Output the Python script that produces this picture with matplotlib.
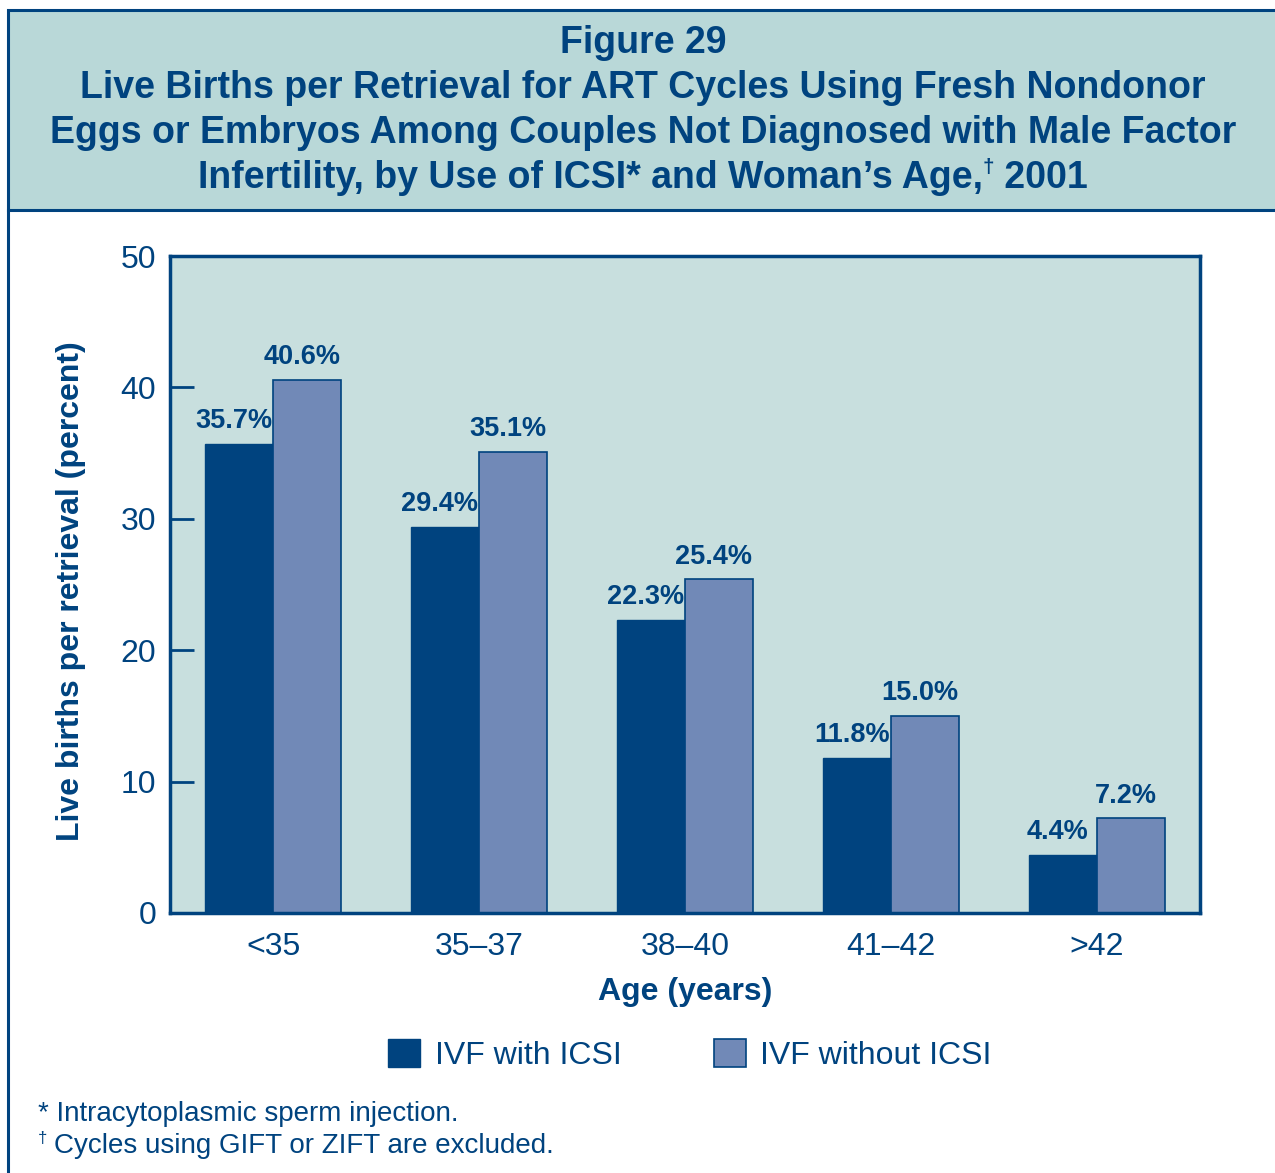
import numpy as np
import matplotlib
matplotlib.use('Agg')
import matplotlib.pyplot as plt
from matplotlib.patches import Rectangle

# ---- data ----
age_groups = ['<35', '35\u201337', '38\u201340', '41\u201342', '>42']
with_icsi = [35.7, 29.4, 22.3, 11.8, 4.4]
without_icsi = [40.6, 35.1, 25.4, 15.0, 7.2]
series_names = ['IVF with ICSI', 'IVF without ICSI']

BLUE = '#00437f'
LIGHT = '#7189b7'
HEAD_BG = '#b9d8d8'
AX_BG = '#c8dfde'

plt.rcParams['font.family'] = ['Liberation Sans', 'DejaVu Sans']

W, H = 1275, 1173
fig = plt.figure(figsize=(W / 100, H / 100), dpi=100)

# ---- frame and header box ----
fig.patches.append(Rectangle((8 / W, 1 - 210 / H), 1.0, 200 / H,
                             transform=fig.transFigure, facecolor=HEAD_BG,
                             edgecolor=BLUE, lw=2.2, zorder=0))
fig.add_artist(plt.Line2D([8 / W, 8 / W], [0, 1 - 210 / H],
                          transform=fig.transFigure, color=BLUE, lw=2.2))

TFS = 27
title_lines = ['Figure 29',
               'Live Births per Retrieval for ART Cycles Using Fresh Nondonor',
               'Eggs or Embryos Among Couples Not Diagnosed with Male Factor']
for i, line in enumerate(title_lines):
    fig.text(643 / W, 1 - (43 + 45 * i) / H, line, ha='center', va='center',
             fontsize=TFS, fontweight='bold', color=BLUE)

# last title line has a superscript dagger: build it from three pieces
renderer = fig.canvas.get_renderer()
ty = 1 - 178 / H
parts = [('Infertility, by Use of ICSI* and Woman\u2019s Age,', TFS, 0),
         ('\u2020', TFS * 0.55, 11),
         (' 2001', TFS, 0)]
texts = []
for s, fs, dy in parts:
    t = fig.text(0, ty + dy / H, s, ha='left', va='center', fontsize=fs,
                 fontweight='bold', color=BLUE)
    texts.append(t)
widths = [t.get_window_extent(renderer).width for t in texts]
x0 = 643 - sum(widths) / 2
for t, w in zip(texts, widths):
    t.set_x(x0 / W)
    x0 += w

# ---- axes ----
ax = fig.add_axes([170 / W, 1 - 913 / H, 1030 / W, 657 / H])
ax.set_facecolor(AX_BG)
x = np.arange(len(age_groups))
bw = 0.33
b1 = ax.bar(x - bw / 2, with_icsi, bw, color=BLUE, edgecolor=BLUE, lw=1,
            label=series_names[0], zorder=2)
b2 = ax.bar(x + bw / 2, without_icsi, bw, color=LIGHT, edgecolor=BLUE, lw=1.2,
            label=series_names[1], zorder=2)

for bars, vals in ((b1, with_icsi), (b2, without_icsi)):
    for r, v in zip(bars, vals):
        ax.annotate(f'{v:.1f}%', (r.get_x() + r.get_width() / 2 - 0.025, v),
                    xytext=(0, 7), textcoords='offset points',
                    ha='center', va='bottom', fontsize=19.5,
                    fontweight='bold', color=BLUE)

ax.set_xlim(-0.5, len(age_groups) - 0.5)
ax.set_ylim(0, 50)
ax.set_yticks(range(0, 51, 10))
ax.set_xticks(x)
ax.set_xticklabels(age_groups)
ax.tick_params(axis='y', direction='in', length=17, width=2, color=BLUE,
               labelsize=23, labelcolor=BLUE, pad=10)
ax.tick_params(axis='x', length=0, labelsize=23, labelcolor=BLUE, pad=14)
for s in ax.spines.values():
    s.set_color(BLUE)
    s.set_linewidth(2.5)

ax.set_xlabel('Age (years)', fontsize=23, fontweight='bold', color=BLUE)
ax.xaxis.set_label_coords(0.5, -0.098)
ax.set_ylabel('Live births per retrieval (percent)', fontsize=23,
              fontweight='bold', color=BLUE)
ax.yaxis.set_label_coords(-0.082, 0.49)

# ---- legend ----
leg = fig.legend(handles=[b1, b2], loc='center', ncol=2,
                 bbox_to_anchor=(690 / W, 1 - 1055 / H), frameon=False,
                 fontsize=23, handlelength=1.0, handleheight=1.0,
                 columnspacing=2.9, handletextpad=0.45)
for t in leg.get_texts():
    t.set_color(BLUE)

# ---- footnotes ----
fig.text(38 / W, 1 - 1114 / H, '* Intracytoplasmic sperm injection.',
         ha='left', va='center', fontsize=20, color=BLUE)
fig.text(38 / W, 1 - 1138 / H, '\u2020', ha='left', va='center',
         fontsize=12, color=BLUE)
fig.text(54 / W, 1 - 1146 / H, 'Cycles using GIFT or ZIFT are excluded.',
         ha='left', va='center', fontsize=20, color=BLUE)

fig.savefig('out.png', dpi=100)
